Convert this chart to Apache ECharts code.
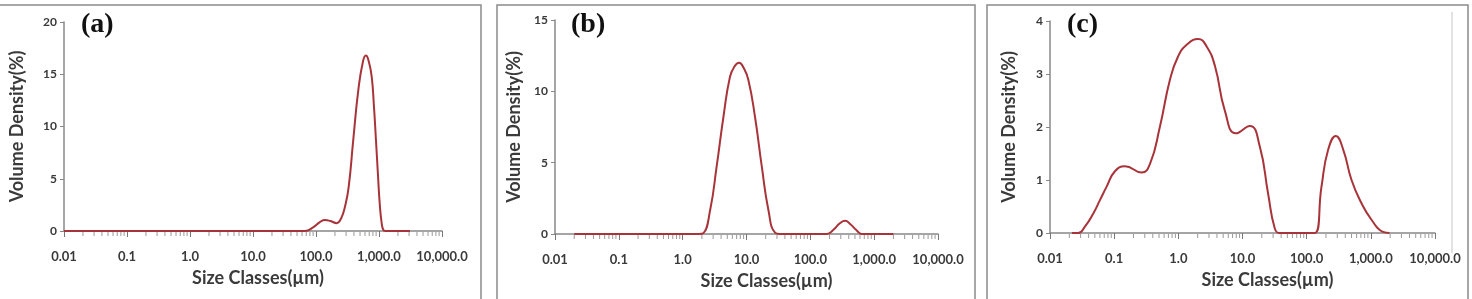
<!DOCTYPE html>
<html>
<head>
<meta charset="utf-8">
<script src="https://cdn.jsdelivr.net/npm/echarts@6/dist/echarts.min.js"></script>
<style>
  html, body {margin: 0; padding: 0; background: #fff;}
  #chart {width: 1472px; height: 299px;}
</style>
</head>
<body>
<div id="chart"></div>
<script>
// size classes (µm) and volume density (%)
const sizesA = [0.01, 0.1, 1, 10, 50, 67, 90, 115, 139, 170, 213, 250, 290, 330, 390, 470, 560, 620, 690, 765, 830, 895, 960, 1030, 1100, 1170, 1260, 2000, 3100]
const densityA = [0, 0, 0, 0, 0, 0, 0.35, 0.85, 1.05, 0.95, 0.75, 1.2, 2.4, 4.2, 8.7, 13.5, 16.3, 16.8, 16.2, 14.8, 12.0, 8.7, 5.5, 2.5, 0.8, 0.1, 0, 0, 0]

const sizesB = [0.02, 0.1, 1, 1.8, 2.1, 2.7, 3.4, 4.35, 5.5, 6.5, 7.65, 9, 10.7, 13.6, 17.4, 22, 28, 35, 100, 181, 230, 290, 351, 420, 520, 640, 1000, 2000]
const densityB = [0, 0, 0, 0, 0.05, 1.7, 4.7, 8.2, 11.0, 11.75, 12.0, 11.65, 10.8, 8.2, 4.7, 1.7, 0.1, 0, 0, 0, 0.3, 0.75, 0.93, 0.7, 0.3, 0, 0, 0]

const sizesC = [0.022, 0.0276, 0.035, 0.0473, 0.06, 0.076, 0.102, 0.147, 0.268, 0.363, 0.515, 0.74, 0.99, 1.35, 2.04, 2.76, 3.72, 5.33, 7.9, 13.0, 18.6, 25, 31.8, 38, 100, 134, 170, 216, 285, 372, 500, 716, 1030, 1550, 1950]
const densityC = [0, 0, 0.12, 0.37, 0.62, 0.87, 1.16, 1.26, 1.14, 1.31, 2.0, 2.89, 3.33, 3.55, 3.66, 3.52, 3.15, 2.3, 1.88, 2.02, 1.63, 0.75, 0.09, 0, 0, 0, 0.87, 1.57, 1.83, 1.57, 1.0, 0.56, 0.245, 0.02, 0]

const xTickLabels = ['0.01', '0.1', '1.0', '10.0', '100.0', '1,000.0', '10,000.0']
const decades = [0.01, 0.1, 1, 10, 100, 1000]
const yMax = [20, 15, 4]
const yStep = [5, 5, 1]
const panelTags = ['(a)', '(b)', '(c)']

// minor tick positions 2..9 inside each decade
const minorTicks = decades.flatMap(d => [2, 3, 4, 5, 6, 7, 8, 9].map(k => [k * d, 0]))

const chart = echarts.init(document.getElementById('chart'))

// plot areas of the three panels
const grids = [
  {left: 64, top: 22, width: 378, height: 209},
  {left: 555, top: 20, width: 383, height: 214},
  {left: 1050, top: 21, width: 385, height: 212},
]
const yNameGap = [38, 32, 32]
const xNameShift = [10, 40, 50]

const labelColor = '#3a3a3a'
const axisColor = '#888'
const lineColor = '#a8343a'
const titleFont = {fontFamily: 'Lato', fontWeight: 'bold', fontSize: 18, color: labelColor}

const zip = (xs, ys) => xs.map((x, i) => [x, ys[i]])
const seriesData = [zip(sizesA, densityA), zip(sizesB, densityB), zip(sizesC, densityC)]

const option = {
  animation: false,
  backgroundColor: '#fff',
  grid: grids,
  xAxis: grids.map((g, i) => ({
    type: 'log',
    gridIndex: i,
    min: 0.01,
    max: 10000,
    logBase: 10,
    splitNumber: 6,
    name: 'Size Classes(µm)',
    nameLocation: 'middle',
    nameGap: 38,
    nameTextStyle: {...titleFont, padding: [0, 0, 0, xNameShift[i]]},
    axisLine: {lineStyle: {color: axisColor, width: 1.5}},
    axisTick: {show: true, length: 6, lineStyle: {color: '#777'}},
    splitLine: {show: false},
    axisLabel: {
      margin: 19,
      fontFamily: 'Lato',
      fontWeight: 'bold',
      fontSize: 13,
      color: labelColor,
      formatter: (v, idx) => xTickLabels[idx],
    },
  })),
  yAxis: grids.map((g, i) => ({
    type: 'value',
    gridIndex: i,
    min: 0,
    max: yMax[i],
    interval: yStep[i],
    name: 'Volume Density(%)',
    nameLocation: 'middle',
    nameGap: yNameGap[i],
    nameTextStyle: titleFont,
    axisLine: {show: true, lineStyle: {color: axisColor, width: 1.5}},
    axisTick: {show: true, length: 4, lineStyle: {color: axisColor}},
    splitLine: {show: false},
    axisLabel: {
      margin: 7,
      fontFamily: 'Lato',
      fontWeight: 'bold',
      fontSize: 12,
      color: labelColor,
    },
  })),
  series: [
    ...seriesData.map((d, i) => ({
      type: 'line',
      xAxisIndex: i,
      yAxisIndex: i,
      data: d,
      smooth: 0.5,
      showSymbol: false,
      z: 3,
      lineStyle: {color: lineColor, width: 2},
    })),
    // minor ticks under each x axis
    ...grids.map((g, i) => ({
      type: 'scatter',
      xAxisIndex: i,
      yAxisIndex: i,
      data: minorTicks,
      symbol: 'rect',
      symbolSize: [1, 4],
      symbolOffset: [0, 3],
      clip: false,
      silent: true,
      z: 1,
      itemStyle: {color: '#808080'},
    })),
  ],
  graphic: [
    // panel frames
    {type: 'rect', shape: {x: -2, y: 5, width: 483, height: 320}, style: {fill: 'none', stroke: '#8a8a8a', lineWidth: 1.5}, silent: true},
    {type: 'rect', shape: {x: 497, y: 5, width: 478, height: 320}, style: {fill: 'none', stroke: '#8a8a8a', lineWidth: 1.5}, silent: true},
    {type: 'rect', shape: {x: 987, y: 5, width: 481, height: 320}, style: {fill: 'none', stroke: '#8a8a8a', lineWidth: 1.5}, silent: true},
    {type: 'line', shape: {x1: 1452, y1: 12, x2: 1452, y2: 253}, style: {stroke: '#e2e2e2', lineWidth: 2}, silent: true},
    // panel tags
    {type: 'text', left: 81, top: 11, style: {text: panelTags[0], font: 'bold 28px "Liberation Serif"', fill: '#111'}},
    {type: 'text', left: 571, top: 11, style: {text: panelTags[1], font: 'bold 28px "Liberation Serif"', fill: '#111'}},
    {type: 'text', left: 1067, top: 11, style: {text: panelTags[2], font: 'bold 28px "Liberation Serif"', fill: '#111'}},
  ],
}

chart.setOption(option)
</script>
</body>
</html>
